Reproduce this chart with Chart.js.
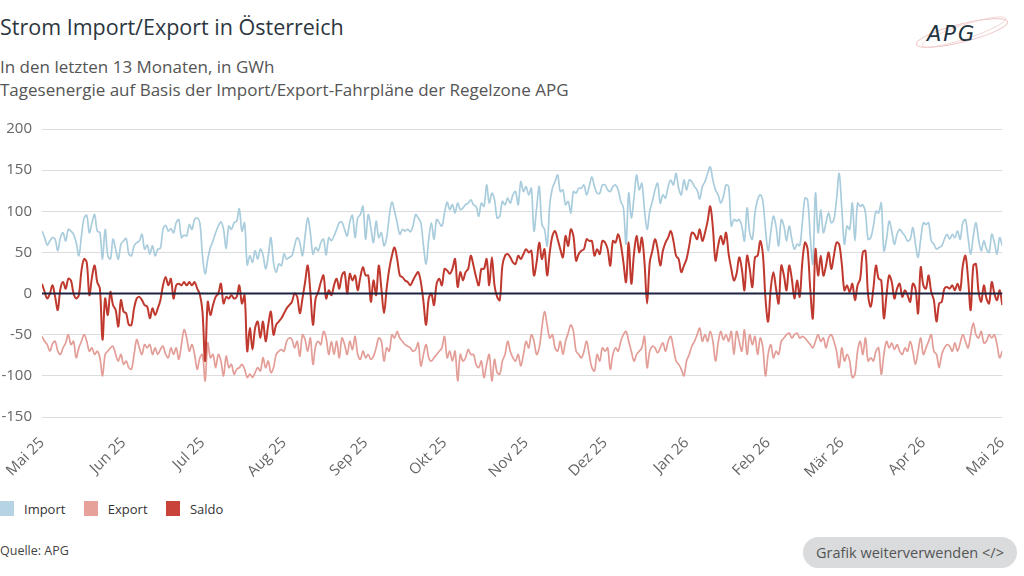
<!DOCTYPE html>
<html lang="de">
<head>
<meta charset="utf-8">
<title>Strom Import/Export in Österreich</title>
<script src="https://cdn.jsdelivr.net/npm/chart.js@4.4.1/dist/chart.umd.min.js"></script>
<style>
  html, body { margin: 0; padding: 0; background: #fff; }
  body { width: 1024px; height: 576px; position: relative; overflow: hidden; font-family: "Open Sans", Lato, sans-serif; color: #333; }
  #title { position: absolute; left: 0; top: 12px; font-size: 21.5px; color: #2c3640; }
  .sub { position: absolute; left: 0; font-size: 17px; color: #555; }
  #logo { position: absolute; left: 912px; top: 6px; }
  #wrap { position: absolute; left: 0; top: 110px; width: 1024px; height: 370px; }
  #legend { position: absolute; left: 0; top: 498px; font-size: 13px; color: #333; }
  #legend span { display: inline-block; vertical-align: middle; }
  #legend .sw { width: 14px; height: 15px; margin-right: 10px; }
  #legend .lb { margin-right: 15px; }
  #src { position: absolute; left: 0; top: 542px; font-size: 12.5px; color: #444; }
  #btn { position: absolute; left: 803px; top: 537px; width: 214px; height: 31px; border-radius: 16px; background: #d9dbdd; color: #555; font-size: 14.5px; line-height: 31px; text-align: center; }
</style>
</head>
<body>
<div id="title">Strom Import/Export in Österreich</div>
<div class="sub" style="top:55px">In den letzten 13 Monaten, in GWh</div>
<div class="sub" style="top:78px">Tagesenergie auf Basis der Import/Export-Fahrpläne der Regelzone APG</div>
<svg id="logo" width="100" height="48" viewBox="0 0 100 48">
  <ellipse cx="50" cy="27" rx="47" ry="9" transform="rotate(-14 50 27)" fill="none" stroke="#efc4c4" stroke-width="1"/>
  <ellipse cx="52" cy="26" rx="44" ry="7" transform="rotate(-18 52 26)" fill="none" stroke="#f3d2d2" stroke-width="0.8"/>
  <text x="15" y="35" font-family="DejaVu Sans, sans-serif" font-size="21" font-style="italic" fill="#1e3340" letter-spacing="2">APG</text>
</svg>
<div id="wrap"><canvas id="chart"></canvas></div>
<div id="legend">
  <span class="sw" style="background:#b5d3e2"></span><span class="lb">Import</span>
  <span class="sw" style="background:#e6a19b"></span><span class="lb">Export</span>
  <span class="sw" style="background:#c9433b"></span><span class="lb">Saldo</span>
</div>
<div id="src">Quelle: APG</div>
<div id="btn">Grafik weiterverwenden &lt;/&gt;</div>
<script>
// Tag 0 = 1. Mai 2025, Tag 365 = 1. Mai 2026
const monthDays = [0, 31, 61, 92, 123, 153, 184, 214, 245, 276, 304, 335, 365];
const monthLabels = ['Mai 25', 'Jun 25', 'Jul 25', 'Aug 25', 'Sep 25', 'Okt 25', 'Nov 25', 'Dez 25', 'Jan 26', 'Feb 26', 'Mär 26', 'Apr 26', 'Mai 26'];
const yTicks = [-150, -100, -50, 0, 50, 100, 150, 200];

const importGWh = [
  76,68,59,64,68,66,52,68,74,64,78,76,72,62,46,70,92,95,74,86,96,76,74,42,78,46,42,66,54,42,60,64,67,48,46,58,62,
  64,72,54,59,48,58,46,54,55,78,83,76,79,74,86,90,68,71,70,84,78,90,92,86,46,24,42,56,64,74,82,87,78,55,82,78,86,88,103,76,86,35,46,38,52,42,
  54,47,30,46,68,38,26,36,34,48,42,44,46,58,68,62,46,70,92,74,48,56,52,62,66,47,68,64,70,78,86,87,78,70,87,95,68,92,96,106,66,
  96,80,62,88,68,74,58,68,94,111,100,86,72,78,76,78,75,82,96,92,86,58,36,66,86,66,90,86,82,98,111,102,108,98,110,102,104,108,110,114,108,106,94,110,106,
  132,110,122,114,92,94,112,108,116,110,120,124,108,136,124,130,120,128,76,104,130,84,78,58,108,128,136,144,124,126,108,112,98,124,122,128,128,132,120,130,142,130,122,122,132,
  132,126,124,130,132,126,112,104,60,122,92,116,144,126,134,102,78,100,112,126,134,110,120,116,130,138,132,146,128,120,138,126,138,136,130,126,115,130,136,146,154,138,126,120,110,
  118,132,130,82,90,88,90,82,64,104,74,66,98,114,120,112,78,52,74,94,82,58,90,82,64,82,66,54,60,58,86,116,114,70,36,122,74,102,74,86,98,86,90,114,146,
  104,60,82,78,110,64,110,106,108,98,66,68,82,100,98,110,52,66,88,76,60,72,78,74,70,64,66,80,60,44,66,86,84,86,64,60,54,56,
  58,66,72,66,72,68,76,66,86,90,68,48,70,86,66,52,64,54,50,72,62,48,68,58
];

const exportGWh = [
  -52,-58,-62,-70,-61,-58,-70,-74,-66,-60,-50,-62,-58,-78,-66,-58,-50,-58,-70,-66,-74,-70,-78,-100,-74,-70,-66,-64,-74,-82,-74,-86,-82,-90,-92,-74,-56,
  -66,-74,-62,-66,-62,-74,-66,-74,-68,-64,-74,-78,-66,-74,-66,-80,-62,-44,-54,-70,-62,-74,-92,-78,-74,-106,-60,-78,-74,-90,-74,-82,-100,-76,-90,-86,-98,-92,-90,-86,-92,-102,-98,-102,-96,-90,
  -94,-78,-90,-82,-96,-90,-74,-70,-68,-70,-58,-54,-56,-66,-58,-76,-50,-56,-70,-54,-86,-64,-58,-62,-46,-54,-74,-58,-74,-58,-78,-54,-62,-74,-58,-68,-52,-74,-80,-70,-78,
  -74,-80,-76,-66,-54,-58,-82,-66,-70,-50,-54,-46,-54,-58,-62,-64,-66,-70,-68,-60,-88,-74,-62,-78,-82,-78,-74,-70,-66,-52,-78,-70,-82,-70,-106,-74,-82,-78,-68,-74,-74,-86,-90,-82,-102,
  -86,-74,-106,-80,-96,-98,-82,-74,-58,-70,-78,-82,-74,-88,-74,-58,-66,-50,-58,-74,-66,-42,-22,-38,-54,-50,-66,-70,-58,-74,-58,-48,-38,-46,-70,-74,-78,-70,-58,-74,-90,-94,-74,-82,-66,
  -70,-66,-92,-74,-66,-70,-58,-50,-46,-58,-70,-82,-74,-70,-66,-52,-90,-70,-64,-66,-72,-66,-60,-70,-58,-52,-66,-82,-86,-92,-100,-82,-74,-64,-58,-50,-42,-58,-50,-58,-46,-58,-82,-60,-46,
  -56,-50,-58,-46,-74,-46,-58,-70,-44,-74,-50,-62,-52,-74,-54,-66,-100,-74,-62,-78,-70,-74,-58,-54,-50,-48,-54,-50,-48,-54,-52,-54,-58,-62,-66,-58,-50,-58,-54,-66,-54,-50,-58,-70,-90,
  -66,-82,-74,-82,-102,-98,-70,-58,-74,-54,-82,-78,-82,-70,-66,-98,-74,-58,-66,-60,-68,-62,-70,-74,-66,-70,-58,-70,-86,-70,-54,-74,-66,-58,-50,-70,-74,-90,
  -74,-66,-62,-64,-70,-60,-70,-60,-50,-58,-66,-50,-36,-50,-54,-46,-60,-58,-50,-54,-50,-62,-78,-70
];

const saldoGWh = [
  12,2,-6,0,10,-4,-20,6,14,6,18,16,0,-6,-2,28,42,38,-2,20,34,14,6,-56,-6,-26,2,-14,-20,-40,-8,-22,-24,-38,-38,-18,-6,
  -4,-8,-14,-16,-30,-18,-26,-18,-8,10,20,10,18,-6,10,12,10,14,10,14,10,14,6,-1,-22,-82,-10,-26,-14,-4,0,12,-12,-4,-6,-2,-6,-4,10,-12,-2,-70,-42,-68,-42,-34,
  -54,-34,-58,-38,-22,-50,-38,-34,-30,-24,-18,-14,-10,0,-4,-24,-6,14,34,2,-38,-6,2,14,22,-6,4,-2,10,18,6,22,26,0,24,16,22,4,20,32,22,
  22,-10,16,-2,34,6,-24,6,30,46,56,42,22,20,16,14,10,16,22,26,14,-10,-38,-6,0,-14,12,18,10,30,28,24,30,42,8,26,16,26,30,46,34,20,10,30,30,
  42,10,44,10,-4,-8,34,46,48,44,38,36,46,42,48,54,50,52,22,38,62,42,54,22,50,70,76,66,54,44,70,58,78,70,40,48,52,54,66,64,64,46,54,48,64,
  62,54,34,64,62,72,60,38,14,62,12,48,70,50,68,38,-12,38,52,66,54,34,52,62,68,76,64,46,42,26,34,42,58,74,72,66,78,64,74,88,106,80,40,58,70,
  60,74,48,30,16,24,44,30,4,46,30,8,44,46,64,48,-6,-34,6,26,6,-12,34,22,4,34,18,-6,16,-4,38,62,54,6,-30,54,22,46,22,34,50,30,46,62,60,
  36,4,10,2,12,-8,10,18,50,52,-2,-16,6,34,18,16,-30,-2,22,14,-6,6,12,-4,4,-2,-10,12,6,-24,32,10,6,22,2,-8,-34,-12,
  -10,6,8,6,10,4,12,4,34,46,18,-20,34,36,2,-10,10,-6,-12,14,0,-8,4,-14
];

const toPoints = arr => arr.map((v, i) => ({ x: i, y: v }));

// dunkle Nulllinie über den Linien
const zeroLine = {
  id: 'zeroLine',
  afterDatasetsDraw(chart) {
    const { ctx, chartArea, scales } = chart;
    const y = scales.y.getPixelForValue(0);
    ctx.save();
    ctx.strokeStyle = '#1c2340';
    ctx.lineWidth = 2;
    ctx.beginPath();
    ctx.moveTo(chartArea.left, y);
    ctx.lineTo(chartArea.right, y);
    ctx.stroke();
    ctx.restore();
  }
};

const tickFont = { family: '"Open Sans", Lato, sans-serif', size: 15 };

new Chart(document.querySelector('#chart').getContext('2d'), {
  type: 'line',
  data: {
    datasets: [
      { label: 'Saldo', data: toPoints(saldoGWh), borderColor: '#c0392f', borderWidth: 2, order: 1 },
      { label: 'Import', data: toPoints(importGWh), borderColor: '#aacddd', borderWidth: 1.7, order: 2 },
      { label: 'Export', data: toPoints(exportGWh), borderColor: '#e39e98', borderWidth: 1.7, order: 3 }
    ]
  },
  options: {
    responsive: true,
    maintainAspectRatio: false,
    animation: false,
    layout: { padding: { top: 15, right: 11, left: 0, bottom: 0 } },
    elements: { point: { radius: 0 }, line: { tension: 0.35 } },
    plugins: { legend: { display: false }, tooltip: { enabled: false } },
    scales: {
      x: {
        type: 'linear',
        min: monthDays[0],
        max: monthDays[monthDays.length - 1],
        grid: { display: false },
        border: { display: false },
        afterBuildTicks: s => { s.ticks = monthDays.map(v => ({ value: v })); },
        afterFit: s => { s.height = 63; },
        ticks: {
          autoSkip: false,
          maxRotation: 45,
          minRotation: 45,
          padding: 9,
          color: '#666',
          font: tickFont,
          callback: v => monthLabels[monthDays.indexOf(v)]
        }
      },
      y: {
        min: yTicks[0],
        max: yTicks[yTicks.length - 1],
        afterBuildTicks: s => { s.ticks = yTicks.map(v => ({ value: v })); },
        afterFit: s => { s.width = 42; },
        grid: { color: '#dcdcdc', lineWidth: 1, drawTicks: false },
        border: { display: false },
        ticks: { padding: 10, color: '#666', font: tickFont }
      }
    }
  },
  plugins: [zeroLine]
});
</script>
</body>
</html>
